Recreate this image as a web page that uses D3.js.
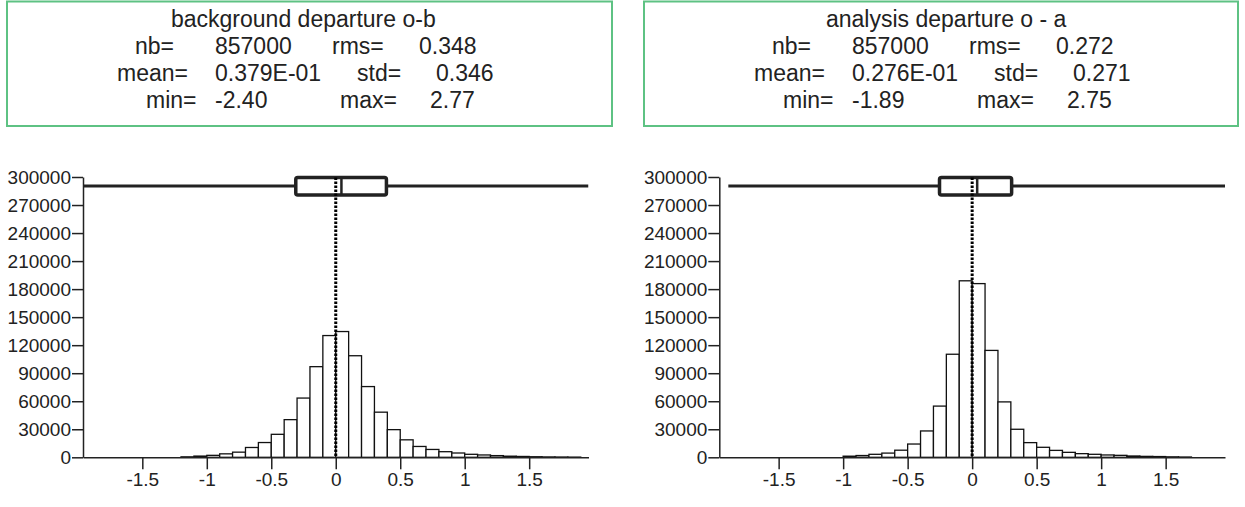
<!DOCTYPE html>
<html>
<head>
<meta charset="utf-8">
<script src="https://cdn.jsdelivr.net/npm/d3@7/dist/d3.min.js"></script>
<style>
  html, body { margin: 0; padding: 0; background: #fff; }
  svg text { font-family: "Liberation Sans", Arial, Helvetica, sans-serif; fill: #222; }
</style>
</head>
<body>
<svg id="chart" width="1245" height="507"></svg>
<script>
// ---------------- DATA ----------------
const panelTitles = ["background departure o-b", "analysis departure o - a"];
const statNb   = ["857000", "857000"];
const statRms  = ["0.348", "0.272"];
const statMean = ["0.379E-01", "0.276E-01"];
const statStd  = ["0.346", "0.271"];
const statMin  = [-2.40, -1.89];
const statMax  = [2.77, 2.75];

// box plot quartiles / median
const boxQ1     = [-0.31, -0.253];
const boxMedian = [0.044, 0.039];
const boxQ3     = [0.393, 0.306];

// histogram bins: lower edge of each 0.1-wide bin
const binWidth = 0.1;
const bgBinStarts = [-1.2,-1.1,-1.0,-0.9,-0.8,-0.7,-0.6,-0.5,-0.4,-0.3,-0.2,-0.1,0.0,0.1,0.2,0.3,0.4,0.5,0.6,0.7,0.8,0.9,1.0,1.1,1.2,1.3,1.4,1.5,1.6,1.7,1.8];
const bgCounts    = [500,1300,2100,3700,5500,10500,15800,24600,40300,63400,97000,130300,134600,108700,75700,48300,29600,18700,11600,8400,6000,4600,3200,2500,1800,1200,900,600,400,300,200];
const anBinStarts = [-1.0,-0.9,-0.8,-0.7,-0.6,-0.5,-0.4,-0.3,-0.2,-0.1,0.0,0.1,0.2,0.3,0.4,0.5,0.6,0.7,0.8,0.9,1.0,1.1,1.2,1.3,1.4,1.5,1.6];
const anCounts    = [1200,1900,3200,4500,7600,14200,28200,54800,110300,188900,185900,114400,59300,30000,15700,10700,7400,5300,3900,3200,2500,2100,1400,1000,800,500,300];

const xTicks = [-1.5, -1, -0.5, 0, 0.5, 1, 1.5];
const xTickLabels = ["-1.5", "-1", "-0.5", "0", "0.5", "1", "1.5"];
const yTicks = [0, 30000, 60000, 90000, 120000, 150000, 180000, 210000, 240000, 270000, 300000];
const xDomain = [-1.96, 1.96];
const yDomain = [0, 300000];

// ---------------- LAYOUT ----------------
const svg = d3.select("#chart");
const basePos = { nb: 135, nbv: 215, rms: 332, rmsv: 419, mean: 117, meanv: 215, std: 357, stdv: 436, min: 146, minv: 215, max: 340, maxv: 430 };
const panels = [
  { bins: bgBinStarts, counts: bgCounts, x0: 83, x1: 588.5, box: { x: 7, w: 605 }, shift: 0, titleX: 171 },
  { bins: anBinStarts, counts: anCounts, x0: 719.3, x1: 1225, box: { x: 644, w: 594 }, shift: 637, titleX: 826 }
];
const yTop = 177, yBot = 457.3;
const baselines = [27, 54, 81, 108];
const boxFont = 23, tickFont = 19;

panels.forEach((p, i) => {
  // ---- stats box ----
  const g0 = svg.append("g");
  g0.append("rect")
    .attr("x", p.box.x).attr("y", 1.5).attr("width", p.box.w).attr("height", 124.5)
    .attr("fill", "none").attr("stroke", "#5ec283").attr("stroke-width", 2);
  g0.append("text")
    .attr("x", p.titleX).attr("y", baselines[0])
    .attr("font-size", boxFont)
    .text(panelTitles[i]);
  const fmt2 = d3.format(".2f");
  const q = basePos, s = p.shift;
  const items = [
    ["nb=", q.nb + s, 1], [statNb[i], q.nbv + s, 1],
    ["rms=", q.rms + s, 1], [statRms[i], q.rmsv + s, 1],
    ["mean=", q.mean + s, 2], [statMean[i], q.meanv + s, 2],
    ["std=", q.std + s, 2], [statStd[i], q.stdv + s, 2],
    ["min=", q.min + s, 3], [fmt2(statMin[i]).replace("\u2212", "-"), q.minv + s, 3],
    ["max=", q.max + s, 3], [fmt2(statMax[i]).replace("\u2212", "-"), q.maxv + s, 3]
  ];
  g0.selectAll("text.stat").data(items).join("text").attr("class", "stat")
    .attr("x", d => d[1]).attr("y", d => baselines[d[2]])
    .attr("font-size", boxFont)
    .text(d => d[0]);

  // ---- scales ----
  const x = d3.scaleLinear().domain(xDomain).range([p.x0, p.x1]);
  const y = d3.scaleLinear().domain(yDomain).range([yBot, yTop]);

  const clipId = "clip" + i;
  svg.append("clipPath").attr("id", clipId).append("rect")
    .attr("x", p.x0).attr("y", 0).attr("width", p.x1 - p.x0).attr("height", 507);

  // ---- bars ----
  const data = p.bins.map((b, k) => ({ b, c: p.counts[k] }));
  svg.append("g").attr("clip-path", `url(#${clipId})`)
    .selectAll("rect").data(data).join("rect")
    .attr("x", d => x(d.b))
    .attr("width", d => x(d.b + binWidth) - x(d.b))
    .attr("y", d => y(d.c))
    .attr("height", d => y(0) - y(d.c))
    .attr("fill", "#fff").attr("stroke", "#111").attr("stroke-width", 1.3);

  // ---- axes ----
  const yAxis = d3.axisLeft(y).tickValues(yTicks).tickSize(11).tickSizeOuter(0).tickPadding(1)
    .tickFormat(d => String(d));
  const gy = svg.append("g").attr("transform", `translate(${p.x0},0)`).call(yAxis);
  const xAxis = d3.axisBottom(x).tickValues(xTicks).tickSize(12).tickSizeOuter(0).tickPadding(3)
    .tickFormat((d, k) => xTickLabels[k]);
  const gx = svg.append("g").attr("transform", `translate(0,${yBot})`).call(xAxis);
  [gy, gx].forEach(g => {
    g.selectAll("path.domain").attr("stroke", "#222").attr("stroke-width", 1.5);
    g.selectAll(".tick line").attr("stroke", "#222").attr("stroke-width", 1.5);
    g.selectAll(".tick text").attr("font-size", tickFont).attr("fill", "#222")
      .attr("font-family", "'Liberation Sans', Arial, sans-serif");
  });

  // ---- box plot ----
  const bp = svg.append("g").attr("clip-path", `url(#${clipId})`);
  const wy = 186, bTop = 177.5, bBot = 195;
  const lo = Math.max(statMin[i], xDomain[0]), hi = Math.min(statMax[i], xDomain[1]);
  bp.append("line").attr("x1", x(lo)).attr("x2", x(boxQ1[i])).attr("y1", wy).attr("y2", wy)
    .attr("stroke", "#222").attr("stroke-width", 3);
  bp.append("line").attr("x1", x(boxQ3[i])).attr("x2", x(hi)).attr("y1", wy).attr("y2", wy)
    .attr("stroke", "#222").attr("stroke-width", 3);
  bp.append("rect").attr("x", x(boxQ1[i])).attr("y", bTop)
    .attr("width", x(boxQ3[i]) - x(boxQ1[i])).attr("height", bBot - bTop)
    .attr("rx", 2).attr("fill", "#fff").attr("stroke", "#222").attr("stroke-width", 3.5);
  bp.append("line").attr("x1", x(boxMedian[i])).attr("x2", x(boxMedian[i]))
    .attr("y1", bTop).attr("y2", bBot).attr("stroke", "#222").attr("stroke-width", 2.5);

  // ---- dotted zero line ----
  svg.append("line").attr("x1", x(0)).attr("x2", x(0)).attr("y1", bTop).attr("y2", yBot)
    .attr("stroke", "#000").attr("stroke-width", 3).attr("stroke-dasharray", "2.5,1.5");
});
</script>
</body>
</html>
